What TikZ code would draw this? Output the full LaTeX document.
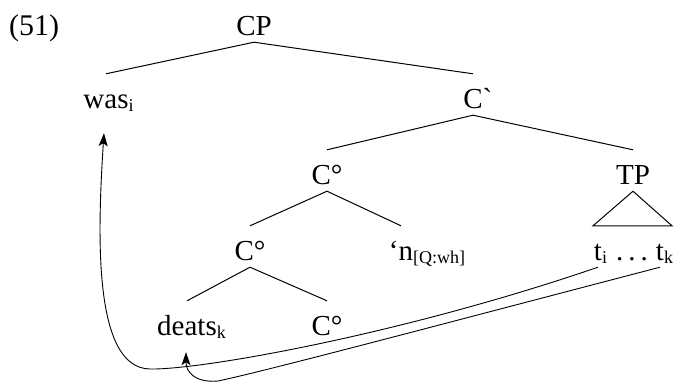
\documentclass[tikz,border=0pt]{standalone}
\usepackage{fontspec}
\setmainfont{Liberation Serif}
\newfontfamily\plainrm{Liberation Serif}[Ligatures=TeXOff]
\usepackage{tikz}
\usetikzlibrary{arrows.meta}

% small lowered index, kept out of the node width
\newcommand{\lsub}[1]{\rlap{\raisebox{-0.3ex}{\fontsize{18}{18}\selectfont #1}}}

\tikzset{
  cat/.style={inner sep=0pt,text height=34pt,text depth=7pt,anchor=base,
    font=\fontsize{29}{32}\selectfont},
  branch/.style={draw=black,line width=1pt},
  move/.style={draw=black,line width=0.9pt,-{Stealth[length=13pt,width=9pt,inset=3pt]}}
}

\begin{document}
\begin{tikzpicture}[x=1pt,y=-1pt]
        \useasboundingbox (0,0) rectangle (678,383);
        \node[anchor=base west,inner sep=0pt,font=\fontsize{30}{33}\selectfont] (ex) at (9,35) {(51)};
        \begin{scope}[every node/.style={cat}]
          \node (cp) at (254,35) {CP};
          \node (was) at (106,108) {was\lsub{i}};
          \node (cbar) at (473,108) {C\rlap{\plainrm `}};
          \node (chead) at (327,184) {C°};
          \node (tp) at (633,184) {TP};
          \node (cinner) at (250,260) {C°};
          \node (qn) at (401,260) {‘n\lsub{[Q:wh]}};
          \node (ti) at (598,260) {t\lsub{i}};
          \node (dots) at (632,260) {.\hspace{5pt}.\hspace{5pt}.};
          \node (tk) at (660,260) {t\lsub{k}};
          \node (deats) at (187,335) {deats\lsub{k}};
          \node (cnull) at (327,335) {C°};
        \end{scope}
        \begin{scope}[every edge/.style={branch}]
          \path (cp.south) edge (was.north);
          \path (cp.south) edge (cbar.north);
          \path (cbar.south) edge (chead.north);
          \path (cbar.south) edge (tp.north);
          \path (chead.south) edge (cinner.north);
          \path (chead.south) edge (qn.north);
          \path (cinner.south) edge (deats.north);
          \path (cinner.south) edge (cnull.north);
        \end{scope}
        \draw[branch] (tp.south) -- ([xshift=-39pt]dots.north) -- ([xshift=40pt]dots.north) -- cycle;
        % movement arrows
        \draw[move] (ti.south) .. controls (400,335) and (200,370) .. (150,369)
          .. controls (94,368) and (97,240) .. ([shift={(-2pt,-18pt)}]was.south);
        \draw[move] (tk.south) .. controls (450,322) and (270,370) .. (218,381)
          .. controls (195,383) and (186,372) .. ([shift={(-1pt,-10pt)}]deats.south);
      \end{tikzpicture}
\end{document}
